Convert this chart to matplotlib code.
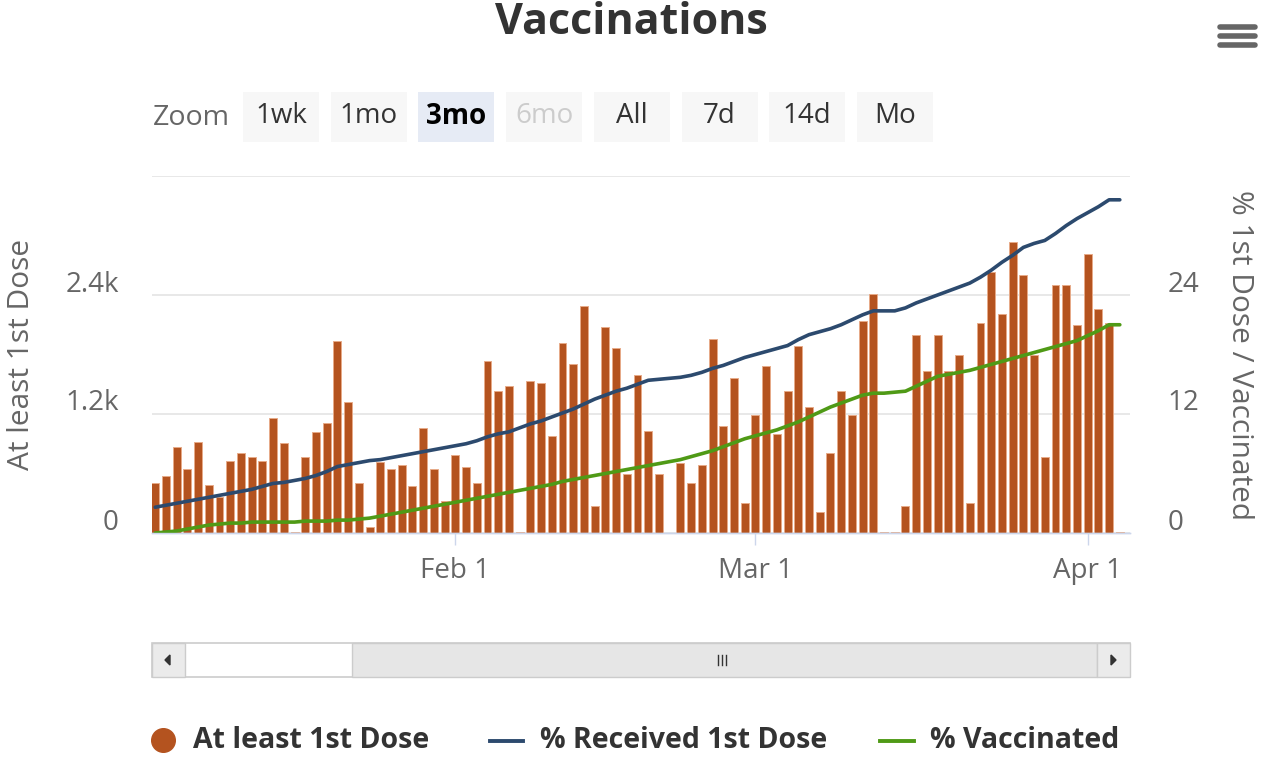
import matplotlib
matplotlib.use("Agg")
import matplotlib.pyplot as plt
import matplotlib.dates as mdates
from matplotlib.patches import Rectangle, Polygon
from matplotlib.lines import Line2D
from matplotlib.transforms import ScaledTranslation
import pandas as pd

plt.rcParams['font.family'] = ['Open Sans', 'DejaVu Sans']

# daily values, Jan 4 .. Apr 4
dates = pd.date_range('2021-01-04', periods=91, freq='D')
first_dose = [500, 570, 870, 645, 915, 480, 360, 730, 810, 765,
              730, 1155, 910, 10, 765, 1020, 1105, 1940, 1320, 500,
              60, 720, 650, 690, 470, 1060, 650, 325, 785, 670,
              500, 1730, 1435, 1485, 10, 1535, 1515, 980, 1920, 1700,
              2290, 275, 2075, 1870, 590, 1590, 1030, 600, 0, 710,
              500, 690, 1960, 1080, 1565, 305, 1190, 1680, 1000, 1435,
              1890, 1270, 215, 810, 1435, 1190, 2135, 2410, 15, 15,
              275, 1995, 1635, 1995, 1635, 1800, 305, 2115, 2630, 2205,
              2930, 2600, 1790, 765, 2500, 2500, 2095, 2815, 2255, 2115,
              15]
pct_first = [2.6, 2.8, 3.0, 3.2, 3.4, 3.6, 3.8, 4.0, 4.2, 4.4,
             4.7, 5.0, 5.1, 5.3, 5.5, 5.8, 6.2, 6.7, 6.9, 7.1,
             7.3, 7.4, 7.6, 7.8, 8.0, 8.2, 8.4, 8.6, 8.8, 9.0,
             9.3, 9.7, 10.0, 10.2, 10.6, 11.0, 11.3, 11.7, 12.1, 12.5,
             13.0, 13.5, 13.9, 14.3, 14.6, 15.0, 15.4, 15.5, 15.6, 15.7,
             15.9, 16.2, 16.6, 16.9, 17.3, 17.7, 18.0, 18.3, 18.6, 18.9,
             19.5, 20.0, 20.3, 20.6, 21.0, 21.5, 22.0, 22.4, 22.4, 22.4,
             22.7, 23.2, 23.6, 24.0, 24.4, 24.8, 25.2, 25.8, 26.5, 27.3,
             28.0, 28.8, 29.2, 29.5, 30.2, 31.0, 31.7, 32.3, 32.9, 33.6,
             33.6]
pct_vacc = [0.0, 0.1, 0.2, 0.4, 0.6, 0.8, 0.9, 1.0, 1.0, 1.1,
            1.1, 1.1, 1.1, 1.1, 1.2, 1.2, 1.2, 1.3, 1.3, 1.4,
            1.5, 1.7, 1.9, 2.1, 2.3, 2.5, 2.7, 2.9, 3.1, 3.3,
            3.5, 3.7, 3.9, 4.1, 4.3, 4.5, 4.7, 4.9, 5.2, 5.4,
            5.6, 5.8, 6.0, 6.2, 6.4, 6.6, 6.8, 7.0, 7.2, 7.4,
            7.7, 8.0, 8.3, 8.7, 9.1, 9.5, 9.8, 10.1, 10.4, 10.8,
            11.2, 11.7, 12.2, 12.7, 13.1, 13.5, 13.9, 14.1, 14.1, 14.2,
            14.3, 14.8, 15.3, 15.8, 16.0, 16.2, 16.4, 16.7, 17.0, 17.3,
            17.6, 17.9, 18.2, 18.5, 18.8, 19.1, 19.4, 19.9, 20.4, 21.0,
            21.0]

left_ticks = [0, 1200, 2400, 3600]
left_labels = ['0', '1.2k', '2.4k', '']
right_ticks = [0, 12, 24, 36]
right_labels = ['0', '12', '24', '']
x_ticks = ['2021-02-01', '2021-03-01', '2021-04-01']
x_labels = ['Feb 1', 'Mar 1', 'Apr 1']
buttons = ['1wk', '1mo', '3mo', '6mo', 'All', '7d', '14d', 'Mo']

BAR = '#b4531f'
BLUE = '#2c4a6e'
GREEN = '#4f9a16'

W, H = 1262, 758
fig = plt.figure(figsize=(W / 100, H / 100), dpi=100)


def fx(px):
    return px / W


def fy(py):
    return 1 - py / H


ax = fig.add_axes([fx(152), fy(533), fx(1130) - fx(152), fy(176) - fy(533)])
ax2 = ax.twinx()

ax.bar(dates, first_dose, width=0.74, color=BAR, edgecolor='#e7ab88', linewidth=0.7, zorder=2)
ax2.plot(dates, pct_first, color=BLUE, lw=2.6, solid_capstyle='round')
ax2.plot(dates, pct_vacc, color=GREEN, lw=2.6, solid_capstyle='round')

d0 = mdates.date2num(dates[0])
ax.set_xlim(d0 - 0.3, d0 + 90.95)
ax.set_ylim(0, 3600)
ax2.set_ylim(0, 36)

ax.set_yticks(left_ticks)
ax.set_yticklabels(left_labels)
ax2.set_yticks(right_ticks)
ax2.set_yticklabels(right_labels)
ax.set_xticks([mdates.date2num(pd.Timestamp(d)) for d in x_ticks])
ax.set_xticklabels(x_labels)

ax.grid(axis='y', color='#e6e6e6', lw=1.3, zorder=0)
ax.set_axisbelow(True)
for a in (ax, ax2):
    for s in ('top', 'left', 'right'):
        a.spines[s].set_visible(False)
    a.spines['bottom'].set_color('#ccd6eb')
    a.spines['bottom'].set_linewidth(1.0)

ax.tick_params(axis='x', length=8.5, width=1, color='#ccd6eb', pad=9,
               labelsize=20, labelcolor='#666666')
ax.tick_params(axis='y', length=0, pad=24, labelsize=20, labelcolor='#666666')
ax2.tick_params(axis='y', length=0, pad=27, labelsize=20, labelcolor='#666666')
for lab in ax.get_yticklabels() + ax2.get_yticklabels():
    lab.set_transform(lab.get_transform() + ScaledTranslation(0, 0.14, fig.dpi_scale_trans))

# axis titles
fig.text(fx(22), fy(354), 'At least 1st Dose', rotation=90, ha='center', va='center',
         fontsize=21.5, color='#666666')
fig.text(fx(1240), fy(355), '% 1st Dose / Vaccinated', rotation=270, ha='center',
         va='center', fontsize=21.5, color='#666666')

# title
fig.text(0.5, fy(23), 'Vaccinations', ha='center', va='center', fontsize=31,
         fontweight='bold', color='#333333')

# menu icon
for yy in (27, 36, 45):
    fig.add_artist(Line2D([fx(1220), fx(1255)], [fy(yy), fy(yy)], color='#666666',
                          lw=4, solid_capstyle='round'))

# range selector
fig.text(fx(153), fy(118), 'Zoom', ha='left', va='center', fontsize=20.5, color='#666666')
bx = 243
for name in buttons:
    bg = '#e6ebf5' if name == '3mo' else '#f7f7f7'
    fig.add_artist(Rectangle((fx(bx), fy(142)), fx(76), fy(92) - fy(142), facecolor=bg,
                             edgecolor='none'))
    col = '#cccccc' if name == '6mo' else ('#000000' if name == '3mo' else '#333333')
    fw = 'bold' if name == '3mo' else 'normal'
    fig.text(fx(bx + 38), fy(116), name, ha='center', va='center', fontsize=20,
             color=col, fontweight=fw)
    bx += 87.7

# scrollbar
fig.add_artist(Rectangle((fx(152), fy(677)), fx(978), fy(643) - fy(677), facecolor='#ffffff',
                         edgecolor='#cccccc', lw=1.2))
fig.add_artist(Rectangle((fx(352), fy(677)), fx(745), fy(643) - fy(677), facecolor='#e6e6e6',
                         edgecolor='#cccccc', lw=1.0))
for x0 in (152, 1097):
    fig.add_artist(Rectangle((fx(x0), fy(677)), fx(33), fy(643) - fy(677), facecolor='#ebebeb',
                             edgecolor='#cccccc', lw=1.0))
fig.add_artist(Polygon([(fx(170), fy(655)), (fx(170), fy(665)), (fx(165), fy(660))],
                       closed=True, color='#333333'))
fig.add_artist(Polygon([(fx(1111), fy(655)), (fx(1111), fy(665)), (fx(1116), fy(660))],
                       closed=True, color='#333333'))
for gx in (718, 722, 726):
    fig.add_artist(Line2D([fx(gx), fx(gx)], [fy(655), fy(665)], color='#333333', lw=1.0))

# legend
fig.add_artist(Line2D([fx(163)], [fy(740)], marker='o', markersize=17, color=BAR, lw=0))
fig.text(fx(193), fy(741), 'At least 1st Dose', ha='left', va='center', fontsize=20.5,
         fontweight='bold', color='#333333')
fig.add_artist(Line2D([fx(490), fx(523)], [fy(741), fy(741)], color=BLUE, lw=2.8))
fig.text(fx(540), fy(741), '% Received 1st Dose', ha='left', va='center', fontsize=20.5,
         fontweight='bold', color='#333333')
fig.add_artist(Line2D([fx(880), fx(914)], [fy(741), fy(741)], color=GREEN, lw=2.8))
fig.text(fx(930), fy(741), '% Vaccinated', ha='left', va='center', fontsize=20.5,
         fontweight='bold', color='#333333')

fig.savefig('out.png', dpi=100, facecolor='white')
